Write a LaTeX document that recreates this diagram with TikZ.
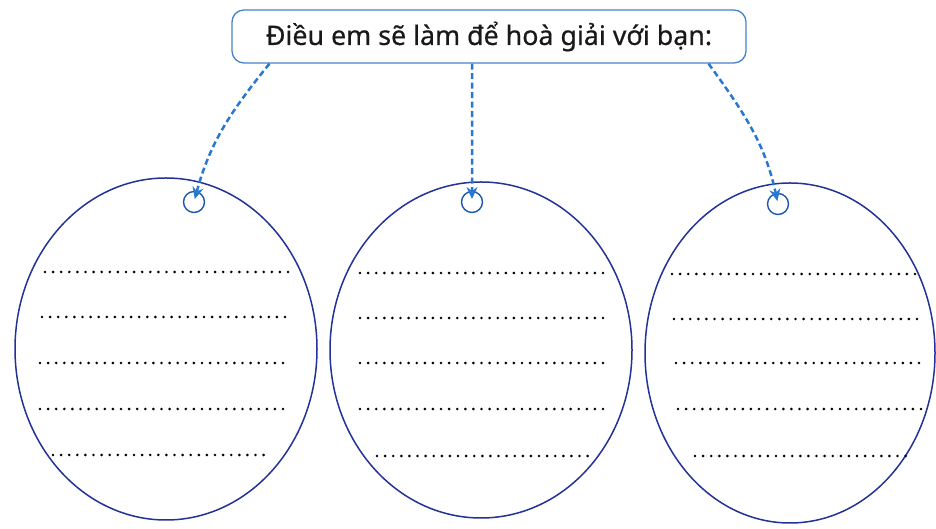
\documentclass[tikz,border=0pt]{standalone}
\usepackage{fontspec}
\setmainfont{Noto Sans}
\newfontfamily\titlefont[FakeBold=0.6]{Noto Sans}
\usetikzlibrary{calc,shapes.geometric,arrows.meta}
\definecolor{ringblue}{RGB}{35,50,150}
\definecolor{holeblue}{RGB}{30,85,175}
\definecolor{arrowblue}{RGB}{40,120,210}
\definecolor{boxblue}{RGB}{70,130,200}
\tikzset{
ring/.style={draw=ringblue,line width=1.5pt,ellipse,inner sep=0pt,outer sep=0pt},
hole/.style={draw=holeblue,line width=1.4pt,circle,minimum size=21pt,inner sep=0pt},
link/.style={draw=arrowblue,line width=2.5pt,dash pattern=on 6pt off 3.5pt,shorten >=3pt,
  -{Stealth[length=12pt,width=11pt]}},
dots/.style={line width=2.9pt,line cap=round,dash pattern=on 0pt off 8.1pt}
}

\begin{document}
\begin{tikzpicture}[x=1pt,y=1pt]
\useasboundingbox (0,0) rectangle (936,529);
\node[draw=boxblue,line width=1.3pt,rounded corners=12pt,minimum width=514pt,minimum height=53pt,
  text=black!90,font=\titlefont\fontsize{26.8}{30}\selectfont] (title) at (489,492.5) {Điều em sẽ làm để hoà giải với bạn:};

\foreach \name/\x/\y/\w/\h in {left/166/180/302/342,mid/481/179/302/336,right/790/176/290/340}{
\node[ring,minimum width=\w,minimum height=\h] (\name) at (\x,\y) {};
}

\node[hole] (hleft) at (194,327) {};
\node[hole] (hmid) at (472,327) {};
\node[hole] (hright) at (778,325) {};

\coordinate (s1) at ($(title.south west)!0.074!(title.south east)$);
\coordinate (s2) at ($(title.south west)!0.467!(title.south east)$);
\coordinate (s3) at ($(title.south west)!0.926!(title.south east)$);
\draw[link] (s1) to[out=-129,in=75] (hleft.center);
\draw[link] (s2) -- (hmid.center);
\draw[link] (s3) to[out=-54,in=102] (hright.center);

\foreach \y/\a/\b in {257/45/290,212/42/288,166/40/288,120/40/288,74/53/270}
\draw[dots] (\a,\y)--(\b,\y);
\foreach \y/\a/\b in {256/360/603,211/360/603,166/360/605,120/360/608,73/377/593}
\draw[dots] (\a,\y)--(\b,\y);
\foreach \y/\a/\b in {255/672/915,210/674/918,166/676/920,120/678/925,73/695/912}
\draw[dots] (\a,\y)--(\b,\y);

\end{tikzpicture}
\end{document}
